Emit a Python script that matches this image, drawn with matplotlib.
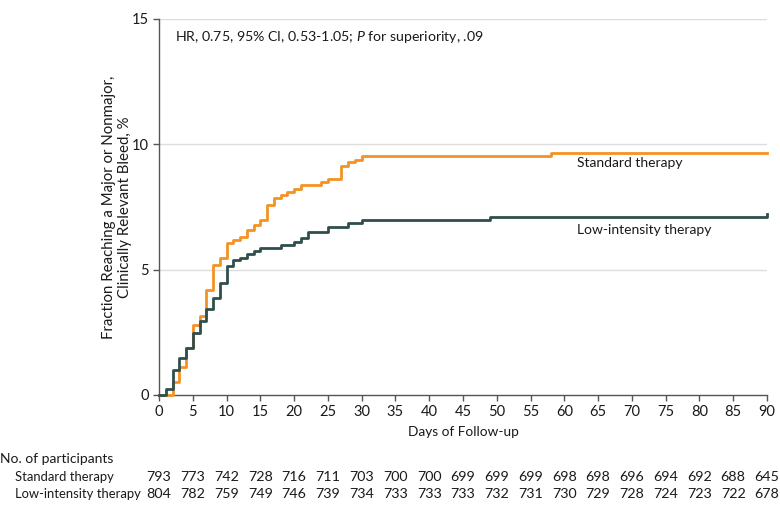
import matplotlib.pyplot as plt
from matplotlib.transforms import blended_transform_factory

plt.rcParams['font.family'] = ['Lato', 'DejaVu Sans']
plt.rcParams['mathtext.fontset'] = 'custom'
plt.rcParams['mathtext.it'] = 'Lato:italic'
plt.rcParams['mathtext.rm'] = 'Lato'

# Kaplan-Meier style cumulative curves
standard_days = [0, 2, 3, 4, 5, 6, 7, 8, 9, 10, 11, 12, 13, 14, 15, 16, 17, 18,
                 19, 20, 21, 24, 25, 27, 28, 29, 30, 58, 90]
standard_pct = [0, 0.5, 1.1, 1.87, 2.8, 3.15, 4.19, 5.19, 5.45, 6.05, 6.2, 6.3,
                6.58, 6.79, 6.98, 7.58, 7.84, 7.99, 8.11, 8.2, 8.38, 8.51, 8.62,
                9.13, 9.28, 9.37, 9.53, 9.64, 9.64]

low_days = [0, 1, 2, 3, 4, 5, 6, 7, 8, 9, 10, 11, 12, 13, 14, 15, 18, 20, 21,
            22, 25, 28, 30, 49, 90]
low_pct = [0, 0.23, 1.0, 1.49, 1.86, 2.49, 2.96, 3.42, 3.86, 4.48, 5.13, 5.38,
           5.48, 5.61, 5.74, 5.88, 5.98, 6.1, 6.25, 6.5, 6.71, 6.87, 7.0, 7.09, 7.22]

# Numbers at risk
risk_days = list(range(0, 91, 5))
standard_risk = [793, 773, 742, 728, 716, 711, 703, 700, 700, 699, 699, 699,
                 698, 698, 696, 694, 692, 688, 645]
low_risk = [804, 782, 759, 749, 746, 739, 734, 733, 733, 733, 732, 731,
            730, 729, 728, 724, 723, 722, 678]

orange = '#F39324'
slate = '#2F4F4C'
txt = '#1a1a1a'
fs = 10

fig = plt.figure(figsize=(7.8, 5.12), dpi=100)
ax = fig.add_axes([159 / 780, 1 - 395 / 512, 608 / 780, 376 / 512])

ax.step(standard_days, standard_pct, where='post', color=orange, lw=2, zorder=3,
        clip_on=False)
ax.step(low_days, low_pct, where='post', color=slate, lw=2, zorder=3,
        clip_on=False)

ax.set_xlim(0, 90)
ax.set_ylim(0, 15)
ax.set_xticks(risk_days)
ax.set_yticks([0, 5, 10, 15])
for v in [5, 10, 15]:
    ax.axhline(v, color='#dcdcdc', lw=1, zorder=1)

for s in ['top', 'right']:
    ax.spines[s].set_visible(False)
for s in ['left', 'bottom']:
    ax.spines[s].set_color('#555555')
    ax.spines[s].set_linewidth(1)
ax.tick_params(colors='#555555', labelcolor=txt, labelsize=10.5, length=4, width=1)

ax.set_xlabel('Days of Follow-up', fontsize=9.8, color=txt, labelpad=5)
ax.set_ylabel('Fraction Reaching a Major or Nonmajor,\nClinically Relevant Bleed, %',
              fontsize=10.8, color=txt, linespacing=1.15)
ax.yaxis.set_label_coords(-0.045, 0.5)

ax.text(2.4, 14.3, r'HR, 0.75, 95% CI, 0.53-1.05; $P$ for superiority, .09',
        fontsize=10.2, color=txt, va='center', ha='left')
ax.text(61.9, 9.27, 'Standard therapy', fontsize=fs, color=txt, va='center')
ax.text(61.9, 6.6, 'Low-intensity therapy', fontsize=fs, color=txt, va='center')

# At-risk table below the axis
tr = blended_transform_factory(ax.transData, fig.transFigure)
fig.text(0.0, 1 - 459 / 512, 'No. of participants', fontsize=fs, color=txt, va='center')
fig.text(15 / 780, 1 - 477 / 512, 'Standard therapy', fontsize=9.4, color=txt, va='center')
fig.text(15 / 780, 1 - 494 / 512, 'Low-intensity therapy', fontsize=9.4, color=txt, va='center')
for d, a, b in zip(risk_days, standard_risk, low_risk):
    ax.text(d, 1 - 477 / 512, str(a), transform=tr, fontsize=10.3, color=txt,
            ha='center', va='center')
    ax.text(d, 1 - 494 / 512, str(b), transform=tr, fontsize=10.3, color=txt,
            ha='center', va='center')

fig.savefig('out.png', dpi=100)
